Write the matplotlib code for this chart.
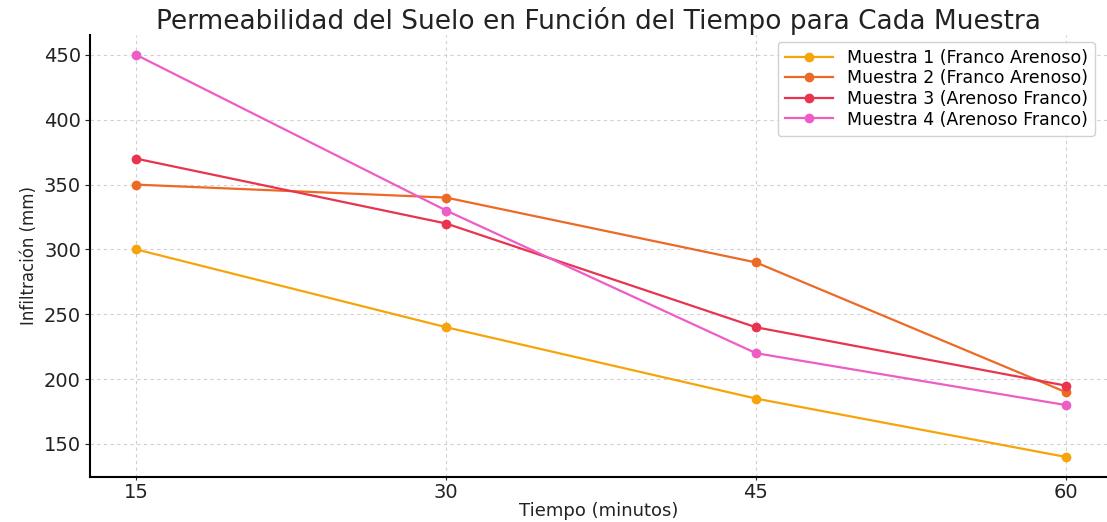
import matplotlib
matplotlib.use("Agg")
import matplotlib.pyplot as plt

tiempos = [15, 30, 45, 60]
muestra1 = [300, 240, 185, 140]
muestra2 = [350, 340, 290, 190]
muestra3 = [370, 320, 240, 195]
muestra4 = [450, 330, 220, 180]
etiquetas = ["Muestra 1 (Franco Arenoso)", "Muestra 2 (Franco Arenoso)",
             "Muestra 3 (Arenoso Franco)", "Muestra 4 (Arenoso Franco)"]
colores = ["#F5A50A", "#EC6A26", "#E8344E", "#EE5CC6"]

fig = plt.figure(figsize=(11.07, 5.22), dpi=100)
ax = fig.add_axes([0.0813, 0.0862, 0.9187, 0.847])
for serie, lab, col in zip([muestra1, muestra2, muestra3, muestra4], etiquetas, colores):
    ax.plot(tiempos, serie, marker="o", color=col, label=lab, linewidth=1.6, markersize=6)

ax.set_xticks(tiempos)
ax.set_xlim(12.75, 62.0)
ax.set_ylim(124.5, 465.5)
ax.grid(True, linestyle=(0, (3, 3)), color="#d0d0d0", linewidth=0.8)
ax.spines["top"].set_visible(False)
ax.spines["right"].set_visible(False)
ax.spines["left"].set_linewidth(1.5)
ax.spines["bottom"].set_linewidth(1.5)
ax.tick_params(axis="y", labelsize=14, colors="#222222", pad=3)
ax.tick_params(axis="x", labelsize=14, colors="#222222", pad=2, length=2)
ax.set_xlabel("Tiempo (minutos)", fontsize=13, color="#222222", labelpad=0)
ax.set_ylabel("Infiltración (mm)", fontsize=12, color="#222222", labelpad=4)
ax.set_title("Permeabilidad del Suelo en Función del Tiempo para Cada Muestra",
             fontsize=19, color="#222222", pad=4)
ax.legend(loc="upper right", fontsize=12.5, framealpha=0.9, labelspacing=0.15,
          handlelength=2.8, borderaxespad=0.4, bbox_to_anchor=(0.995, 1.0))
fig.savefig("out.png", dpi=100)
